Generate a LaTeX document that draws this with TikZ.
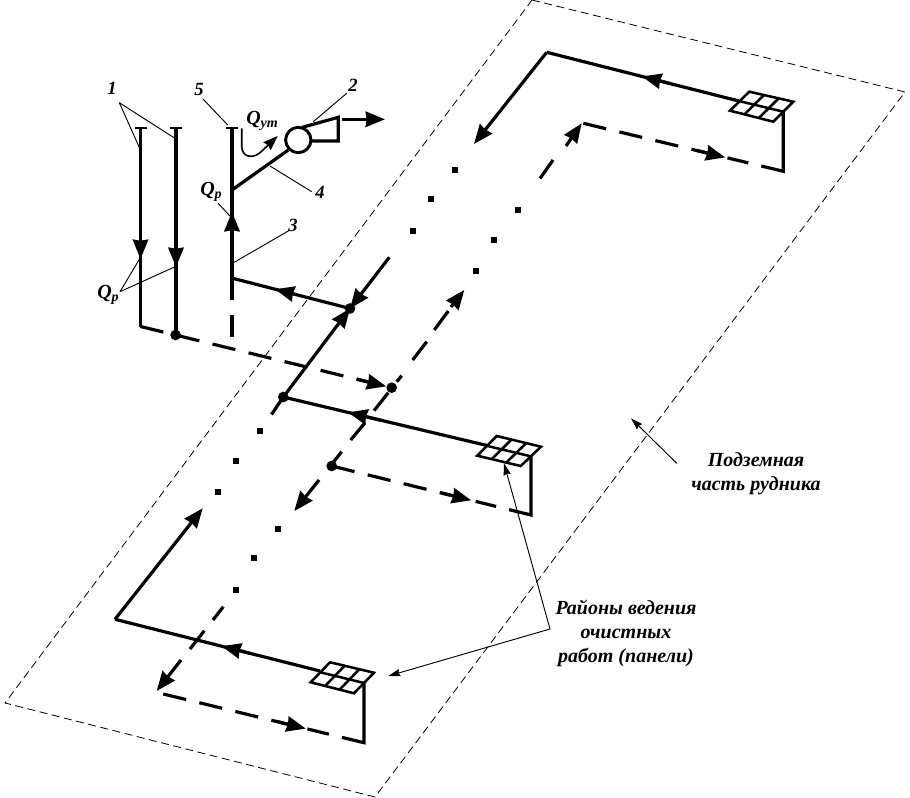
\documentclass[tikz,border=0pt]{standalone}
\usepackage{fontspec}
\setmainfont{Liberation Serif}
\usetikzlibrary{arrows.meta,calc}
\tikzset{
  px/.style={x=0.75pt,y=-0.75pt},
  pipe/.style={line width=2.4pt,line cap=butt,line join=miter},
  gridline/.style={line width=1.9pt},
  thin leader/.style={line width=0.7pt},
  border/.style={line width=0.6pt,dash pattern=on 6pt off 3.4pt},
  dpipe/.style={pipe,dash pattern=on 17.6pt off 10.2pt},
  head/.style={-{Stealth[length=14.5pt,width=11.5pt,inset=0.8pt]}},
  leadhead/.style={thin leader,-{Stealth[length=9pt,width=5.5pt,inset=1pt]}},
  junction/.style={circle,fill=black,inner sep=0pt,minimum size=8pt},
  sq/.style={rectangle,fill=black,inner sep=0pt,minimum size=4.3pt},
  lab/.style={font=\bfseries\itshape\fontsize{14pt}{17pt}\selectfont,inner sep=0pt},
  qlab/.style={font=\bfseries\itshape\fontsize{15pt}{17pt}\selectfont,inner sep=0pt},
  txt/.style={font=\bfseries\itshape\fontsize{15pt}{18pt}\selectfont,align=center,inner sep=0pt},
}
\newcommand{\panelgrid}[4]{% TL TR BR BL
  \draw[gridline,line join=miter] (#1) -- (#2) -- (#3) -- (#4) -- cycle;
  \draw[gridline] ($(#1)!0.5!(#4)$) -- ($(#2)!0.5!(#3)$);
  \draw[gridline] ($(#1)!0.333!(#2)$) -- ($(#4)!0.333!(#3)$);
  \draw[gridline] ($(#1)!0.667!(#2)$) -- ($(#4)!0.667!(#3)$);
}
\begin{document}
\begin{tikzpicture}[px]
\useasboundingbox (0,0) rectangle (910,798);
% border
\coordinate (bT) at (532,0); \coordinate (bR) at (905,92);
\coordinate (bB) at (375,797); \coordinate (bL) at (5,703);
\draw[border] (bT) -- (bR) -- (bB) -- (bL) -- cycle;

% shafts
\foreach \n/\x/\y in {a/140.5/327,b/176/335}{
  \coordinate (\n top) at (\x,128); \coordinate (\n bot) at (\x,\y);
  \draw[line width=1.9pt] (\x-6,128) -- (\x+6,128);
  \draw[pipe] (\n top) -- (\n bot);
}
\draw[line width=1.9pt] (226,128) -- (238,128);
\coordinate (ctop) at (232,128); \coordinate (cend) at (232,300);
\draw[pipe] (ctop) -- (cend);
\draw[pipe] (232,315) -- (232,337);
\coordinate (aa) at (140.5,259); \coordinate (ab) at (176,267);
\coordinate (ac) at (232,212);
\draw[pipe,head] (140.5,235) -- (aa);
\draw[pipe,head] (176,240) -- (ab);
\draw[pipe,head] (232,240) -- (ac);

% fan
\node[circle,draw,line width=2.2pt,minimum size=19pt,inner sep=0pt] (fan) at (298.3,140) {};
\coordinate (d1) at (338.3,117.3); \coordinate (d2) at (338.3,141);
\draw[pipe] (301.7,127.5) -- (d1) -- (d2) -- (311,141);
\draw[pipe] (232,190) -- (288.3,150);
\draw[pipe,head] (342,119.3) -- (385,119.3);

% intake line
\node[junction] (j1) at (175.6,335) {};
\node[junction] (j2) at (391.7,387.7) {};
\coordinate (i0) at (140.5,326.5);
\draw[dpipe] (i0) -- (j2.center);
\draw[pipe,head] ($(i0)!0.86!(j2.center)$) -- (j2);

% main solid incline
\node[junction] (j3) at (350,308.5) {};
\node[junction] (j4) at (283.3,397) {};
\coordinate (s0) at (389.3,257.3);
\coordinate (b0) at (232.7,278.3);
\draw[pipe,head] (s0) -- (j3.center);
\draw[pipe,head] (j4.center) -- (j3.center);
\draw[pipe] (j4.center) -- (271.5,414.5);
\draw[pipe] (j3.center) -- (b0);
\draw[pipe,head] ($(j3)!0.47!(b0)$) -- ($(j3)!0.64!(b0)$);

% upper panel
\coordinate (u1) at (738.5,100.9); \coordinate (u2) at (546.7,52.3);
\coordinate (u3) at (783.3,171.3); \coordinate (u4) at (583.3,123.3);
\draw[pipe] (u1) -- (u2);
\draw[pipe,head] (u2) -- (474,144);
\draw[pipe,head] ($(u1)!0.36!(u2)$) -- ($(u1)!0.503!(u2)$);
\panelgrid{749.3,91.7}{793.3,101.7}{773.3,121.7}{730,110.7}
\draw[pipe] (783.3,111.7) -- (u3) -- ($(u3)!0.11!(u4)$);
\draw[dpipe] (u4) -- ($(u4)!0.825!(u3)$);
\draw[pipe,head] ($(u4)!0.57!(u3)$) -- ($(u4)!0.71!(u3)$);
\draw[pipe,head] (566,146) -- (581.7,123.3);
\draw[pipe] (553,160) -- (540,178.5);

% middle panel
\coordinate (m1) at (487,445.5);
\coordinate (m3) at (531,515);
\draw[pipe] (j4.center) -- (m1);
\draw[pipe,head] ($(j4)!0.48!(m1)$) -- ($(j4)!0.318!(m1)$);
\panelgrid{496.7,436}{541,446.7}{520.7,466}{477.3,455.7}
\node[junction] (j5) at (331.7,466) {};
\draw[pipe] (531,456.7) -- (m3) -- ($(m3)!0.11!(j5.center)$);
\draw[dpipe] (j5.center) -- ($(j5.center)!0.825!(m3)$);
\draw[pipe,head] ($(j5.center)!0.55!(m3)$) -- ($(j5.center)!0.70!(m3)$);
\draw[pipe,head] (319,480) -- (294.3,511);
% dashed incline
\draw[pipe] (448.3,311) -- (434.3,330);
\draw[pipe] (426.7,341.7) -- (412.7,360);
\draw[pipe] (401.7,375.7) -- (396.7,381.7);
\draw[pipe] (388.3,392.7) -- (374,410.7);
\draw[pipe] (365,422.7) -- (350.7,440);
\draw[pipe] (341.7,451.7) -- (332.7,463);
\draw[pipe,head] (451,307) -- (464.3,290);

% lower panel
\coordinate (l1) at (320,671); \coordinate (l2) at (115,619.3);
\coordinate (l3) at (364,742.7); \coordinate (l4) at (163.3,694);
\draw[pipe] (l1) -- (l2);
\draw[pipe,head] (l2) -- (202.7,508.3);
\draw[pipe,head] ($(l2)!0.66!(l1)$) -- ($(l2)!0.52!(l1)$);
\panelgrid{330,662.3}{374,672.7}{354,693.3}{310.7,682.3}
\draw[pipe] (364,683.3) -- (l3) -- ($(l3)!0.11!(l4)$);
\draw[dpipe] (l4) -- ($(l4)!0.825!(l3)$);
\draw[pipe,head] ($(l4)!0.57!(l3)$) -- ($(l4)!0.71!(l3)$);
\draw[pipe] (223.3,606.7) -- (213,620);
\draw[pipe] (204.3,630.7) -- (190,649);
\draw[pipe,head] (181,660) -- (156.7,691);

% square dots
\foreach \p in {(455.3,170),(431.3,199.3),(413,230.7),(518,210.3),(494,240),(475.7,271),(260,431.3),(236,460.7),(217.7,492),(278.3,529),(254.3,558.3),(236,589.7)}{
  \node[sq] at \p {};
}

% leaders
\coordinate (L1) at (119.3,102.7);
\draw[thin leader] (L1) -- (139.3,147.3);
\draw[thin leader] (L1) -- (175,138.3);
\draw[thin leader] (203,99) -- (227.7,125);
\draw[thin leader] (346.7,93.3) -- (313.3,121.7);
\draw[thin leader] (311.7,191.7) -- (270,166);
\draw[thin leader] (290,230) -- (233,263);
\draw[thin leader] (218,203.3) -- (230,216);
\coordinate (LQ) at (120,291.7);
\draw[thin leader] (LQ) -- (140,258.3);
\draw[thin leader] (LQ) -- (176.7,266);

% leak curve
\draw[line width=1.2pt,-{Stealth[length=11pt,width=8pt,inset=1pt]}] (241.7,128.3) -- (241.7,146) .. controls (241.7,158) and (254,160) .. (263,150) -- (277.7,136);

% thin arrows
\draw[leadhead] (676.7,463.3) -- (631,418.3);
\coordinate (Lp) at (550,629);
\draw[leadhead] (Lp) -- (504,463.3);
\draw[leadhead] (Lp) -- (388.3,676);

% labels
\node[lab] (t1) at (112,88) {1};
\node[lab] (t5) at (199,89) {5};
\node[lab] (t2) at (353,85) {2};
\node[lab] (t4) at (320,192) {4};
\node[lab] (t3) at (293,225) {3};
\node[qlab,anchor=west] (q1) at (246,121) {Q\textsubscript{ут}};
\node[qlab,anchor=west] (q2) at (200,192) {Q\textsubscript{р}};
\node[qlab,anchor=west] (q3) at (97,295) {Q\textsubscript{р}};
\node[txt] (t6) at (756,474) {Подземная\\часть рудника};
\node[txt] (t7) at (626,633) {Районы ведения\\очистных\\работ (панели)};
\end{tikzpicture}
\end{document}
